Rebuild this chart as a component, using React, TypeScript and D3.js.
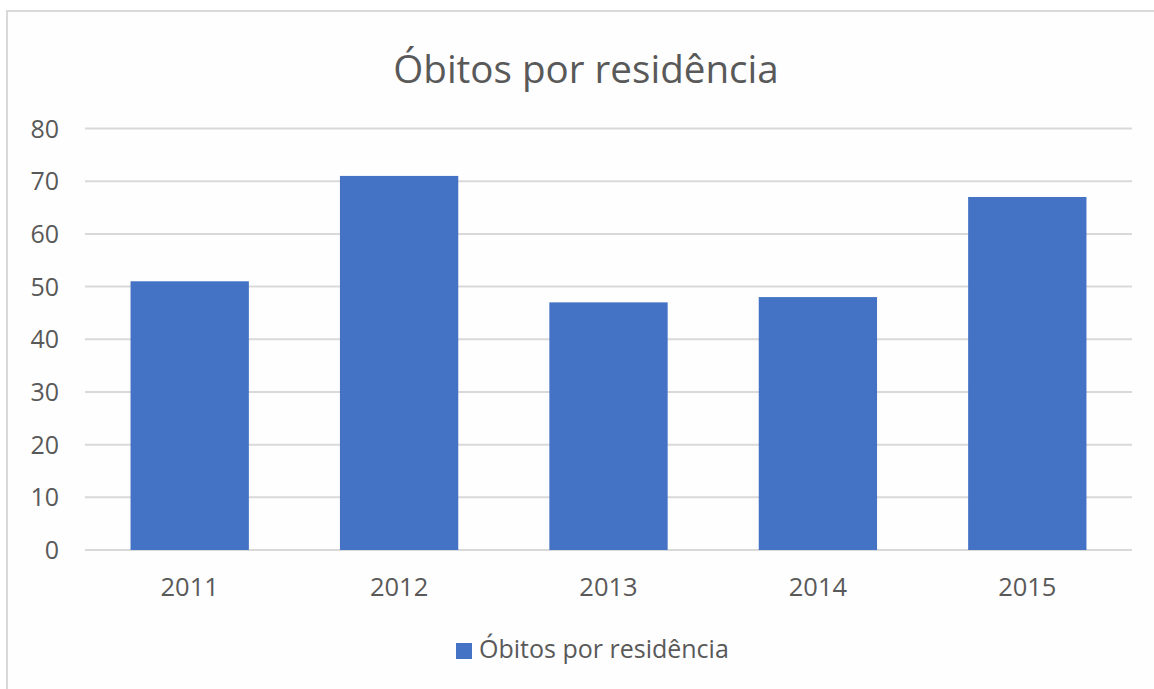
import React, { useEffect, useRef } from "react";
import * as d3 from "d3";

const years = ["2011", "2012", "2013", "2014", "2015"];
const obitos = [51, 71, 47, 48, 67];
const yTicks = [0, 10, 20, 30, 40, 50, 60, 70, 80];
const chartTitle = "Óbitos por residência";
const seriesName = "Óbitos por residência";

const App = () => {
  const chartRef = useRef<SVGSVGElement>(null);

  useEffect(() => {
    const svg = d3.select(chartRef.current);
    svg.selectAll("*").remove();

    const width = 1154;
    const height = 689;
    const font = "'Open Sans', 'Noto Sans', sans-serif";
    const textColor = "#595959";
    const gridColor = "#d9d9d9";

    // chart frame (cropped on right and bottom)
    svg
      .append("rect")
      .attr("x", 7)
      .attr("y", 11)
      .attr("width", width)
      .attr("height", height)
      .attr("fill", "#fefefe")
      .attr("stroke", gridColor)
      .attr("stroke-width", 2);

    const x = d3.scaleBand().domain(years).range([85, 1132]).paddingInner(0.435).paddingOuter(0.2175);
    const y = d3.scaleLinear().domain([0, 80]).range([550, 128.5]);

    svg
      .append("text")
      .attr("x", 586)
      .attr("y", 83)
      .attr("text-anchor", "middle")
      .style("font-family", font)
      .style("font-size", "38.6px")
      .attr("fill", textColor)
      .text(chartTitle);

    const grid = svg.append("g");
    grid
      .selectAll("line")
      .data(yTicks)
      .enter()
      .append("line")
      .attr("x1", 85)
      .attr("x2", 1132)
      .attr("y1", (d) => y(d))
      .attr("y2", (d) => y(d))
      .attr("stroke", gridColor)
      .attr("stroke-width", 2);

    svg
      .append("g")
      .selectAll("text")
      .data(yTicks)
      .enter()
      .append("text")
      .attr("x", 59)
      .attr("y", (d) => y(d) + 9)
      .attr("text-anchor", "end")
      .style("font-family", font)
      .style("font-size", "25px")
      .attr("fill", textColor)
      .text((d) => d);

    svg
      .append("g")
      .selectAll("rect")
      .data(obitos)
      .enter()
      .append("rect")
      .attr("x", (d, i) => x(years[i]) as number)
      .attr("y", (d) => y(d))
      .attr("width", x.bandwidth())
      .attr("height", (d) => y(0) - y(d))
      .attr("fill", "#4472c4");

    svg
      .append("g")
      .selectAll("text")
      .data(years)
      .enter()
      .append("text")
      .attr("x", (d) => (x(d) as number) + x.bandwidth() / 2)
      .attr("y", 596)
      .attr("text-anchor", "middle")
      .style("font-family", font)
      .style("font-size", "25.5px")
      .attr("fill", textColor)
      .text((d) => d);

    // legend
    const legend = svg.append("g");
    legend
      .append("rect")
      .attr("x", 456)
      .attr("y", 643)
      .attr("width", 16)
      .attr("height", 16)
      .attr("fill", "#4472c4");
    legend
      .append("text")
      .attr("x", 479)
      .attr("y", 658)
      .style("font-family", font)
      .style("font-size", "25px")
      .attr("fill", textColor)
      .text(seriesName);
  }, []);

  return (
    <svg
      ref={chartRef}
      width={1154}
      height={689}
      style={{ position: "absolute", left: 0, top: 0, background: "#fff" }}
    ></svg>
  );
};

export default App;
